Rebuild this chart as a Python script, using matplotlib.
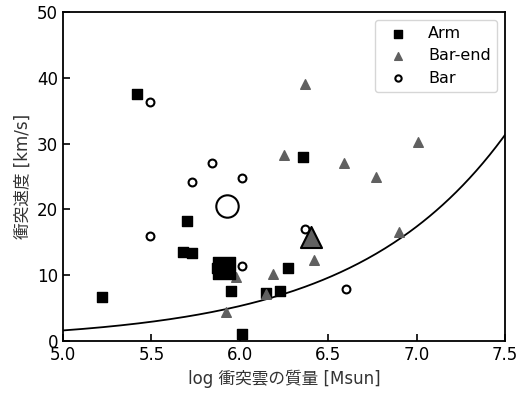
import numpy as np
import matplotlib
matplotlib.use("Agg")
import matplotlib.pyplot as plt

plt.rcParams['font.family'] = ['DejaVu Sans', 'Noto Sans CJK JP']

# Arm (squares)
arm_x = [5.22, 5.42, 5.70, 5.68, 5.73, 5.87, 5.95, 6.01, 6.15, 6.23, 6.27, 6.36]
arm_y = [6.7, 37.5, 18.3, 13.5, 13.3, 11.1, 7.6, 1.0, 7.3, 7.6, 11.1, 28.0]
arm_mean = (5.91, 11.1)

# Bar-end (triangles)
barend_x = [5.92, 5.98, 6.15, 6.19, 6.25, 6.37, 6.42, 6.59, 6.77, 6.90, 7.01]
barend_y = [4.4, 9.8, 7.2, 10.2, 28.3, 39.1, 12.3, 27.1, 24.9, 16.6, 30.2]
barend_mean = (6.40, 15.8)

# Bar (open circles)
bar_x = [5.49, 5.49, 5.73, 5.84, 6.01, 6.01, 6.37, 6.60]
bar_y = [15.9, 36.3, 24.2, 27.0, 24.8, 11.4, 17.0, 7.9]
bar_mean = (5.93, 20.5)

# threshold curve
curve_x = [5.0, 5.5, 5.93, 6.34, 6.65, 6.94, 7.09, 7.19, 7.28, 7.5]
curve_y = [1.65, 2.85, 4.7, 8.1, 11.85, 16.3, 19.3, 21.9, 24.5, 30.4]

fig = plt.figure(figsize=(5.18, 3.97), dpi=100)
ax = fig.add_axes([0.1216, 0.141, 0.8534, 0.829])

coef = np.polyfit(curve_x, np.log10(curve_y), 2)
xs = np.linspace(5.0, 7.5, 200)
ax.plot(xs, 10 ** np.polyval(coef, xs), color='black', lw=1.3, zorder=1)

gray = '#606060'
ax.scatter(arm_x, arm_y, marker='s', s=45, color='black', label='Arm', zorder=3)
ax.scatter(barend_x, barend_y, marker='^', s=48, color=gray, label='Bar-end', zorder=3)
ax.scatter(bar_x, bar_y, marker='o', s=32, facecolor='white', edgecolor='black',
           linewidths=1.5, label='Bar', zorder=3)

ax.scatter([arm_mean[0]], [arm_mean[1]], marker='s', s=260, color='black', zorder=4)
ax.scatter([barend_mean[0]], [barend_mean[1]], marker='^', s=230, facecolor=gray,
           edgecolor='black', linewidths=1.5, zorder=4)
ax.scatter([bar_mean[0]], [bar_mean[1]], marker='o', s=260, facecolor='white',
           edgecolor='black', linewidths=1.5, zorder=4)

ax.set_xlim(5.0, 7.5)
ax.set_ylim(0, 50)
ax.set_xticks([5.0, 5.5, 6.0, 6.5, 7.0, 7.5])
ax.set_yticks([0, 10, 20, 30, 40, 50])
ax.tick_params(direction='in', labelsize=12, length=5, width=1.2)
for sp in ax.spines.values():
    sp.set_linewidth(1.3)
ax.set_xlabel('log 衝突雲の質量 [Msun]', fontsize=12, color='#333333')
ax.set_ylabel('衝突速度 [km/s]', fontsize=12, color='#333333')
ax.legend(loc='upper right', fontsize=11.5, borderpad=0.4, labelspacing=0.45,
          handletextpad=0.9, borderaxespad=0.5, markerscale=0.8)

fig.savefig('out.png', dpi=100)
